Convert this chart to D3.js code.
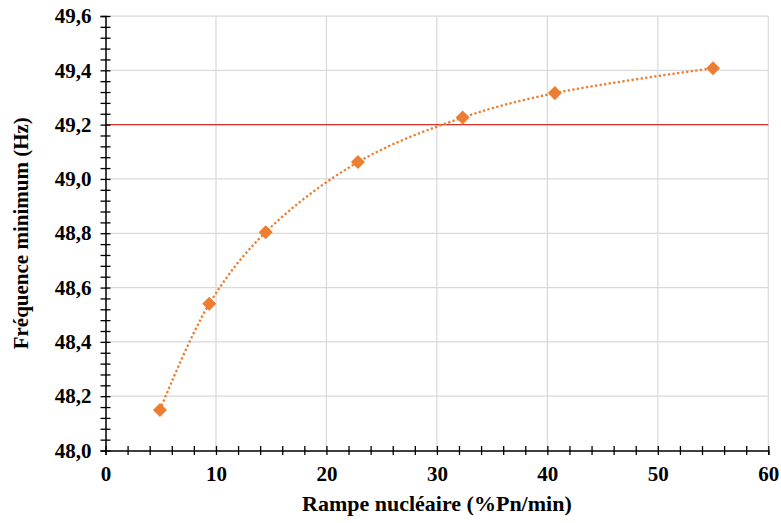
<!DOCTYPE html>
<html><head><meta charset="utf-8">
<script src="https://cdn.jsdelivr.net/npm/d3@7"></script>
<style>
body{margin:0;background:#fff}svg{display:block}
svg text{font-family:"Liberation Serif","Times New Roman","DejaVu Serif",serif !important;font-weight:bold;fill:#000}
</style>
</head><body>
<svg id="c" width="781" height="523"></svg>
<script>
const rampe = [4.93, 9.39, 14.5, 22.85, 32.33, 40.68, 55.0];
const frequence = [48.149, 48.54, 48.804, 49.062, 49.226, 49.316, 49.408];
const seuil = 49.2;
const xTicks = [0, 10, 20, 30, 40, 50, 60];
const yTicks = [48.0, 48.2, 48.4, 48.6, 48.8, 49.0, 49.2, 49.4, 49.6];
const xTitle = "Rampe nucléaire (%Pn/min)";
const yTitle = "Fréquence minimum (Hz)";

const svg = d3.select("#c");
const L = 105.5, R = 768.3, T = 16, B = 450.5;
const x = d3.scaleLinear().domain([0, 60]).range([L, R]);
const y = d3.scaleLinear().domain([48, 49.6]).range([B, T]);
const fmt = d => d3.format(".1f")(d).replace(".", ",");

// grid
svg.append("g").selectAll("line").data(xTicks.slice(1)).join("line")
  .attr("x1", d => x(d)).attr("x2", d => x(d)).attr("y1", T).attr("y2", B)
  .attr("stroke", "#d9d9d9").attr("stroke-width", 1.25);
svg.append("g").selectAll("line").data(yTicks.slice(1)).join("line")
  .attr("x1", L).attr("x2", R).attr("y1", d => y(d)).attr("y2", d => y(d))
  .attr("stroke", "#d9d9d9").attr("stroke-width", 1.25);

// threshold
svg.append("line").attr("x1", L).attr("x2", R).attr("y1", y(seuil)).attr("y2", y(seuil))
  .attr("stroke", "#d8322c").attr("stroke-width", 1.25);

// axes
const xMinor = d3.range(0, 61, 2);
const yMinor = d3.range(0, 41).map(i => 48 + i * 0.04);
const gx = svg.append("g").attr("transform", `translate(0,${B})`);
gx.call(d3.axisBottom(x).tickValues(xMinor).tickSize(4.5).tickFormat(""));
gx.call(g => g.selectAll(".tick line").attr("y1", -4.5));
gx.append("g").call(d3.axisBottom(x).tickValues(xTicks).tickSize(0).tickPadding(16).tickFormat(d => d))
  .call(g => g.select(".domain").remove());
const gy = svg.append("g").attr("transform", `translate(${L},0)`);
gy.call(d3.axisLeft(y).tickValues(yMinor).tickSize(5).tickFormat(""));
gy.call(g => g.selectAll(".tick line").attr("x1", 5));
gy.append("g").call(d3.axisLeft(y).tickValues(yTicks).tickSize(0).tickPadding(14).tickFormat(fmt))
  .call(g => g.select(".domain").remove());
svg.selectAll(".domain").attr("stroke", "#000").attr("stroke-width", 1.5);
svg.selectAll(".tick line").attr("stroke", "#000").attr("stroke-width", 1.3);
svg.selectAll(".tick text").attr("font-size", 21);

// series
const pts = rampe.map((v, i) => [v, frequence[i]]);
svg.append("path").datum(pts)
  .attr("d", d3.line().x(d => x(d[0])).y(d => y(d[1])).curve(d3.curveCatmullRom.alpha(0.5)))
  .attr("fill", "none").attr("stroke", "#ed7d31").attr("stroke-width", 2.3)
  .attr("stroke-dasharray", "2.3 2.3");
svg.append("g").selectAll("path").data(pts).join("path")
  .attr("transform", d => `translate(${x(d[0])},${y(d[1])})`)
  .attr("d", d3.symbol().type(d3.symbolDiamond2).size(125))
  .attr("fill", "#ed7d31");

// titles
svg.append("text").attr("x", (L + R) / 2).attr("y", 511).attr("text-anchor", "middle")
  .attr("font-size", 22).text(xTitle);
svg.append("text").attr("transform", `translate(28,${(T + B) / 2}) rotate(-90)`)
  .attr("text-anchor", "middle").attr("font-size", 21).text(yTitle);
</script>
</body></html>
